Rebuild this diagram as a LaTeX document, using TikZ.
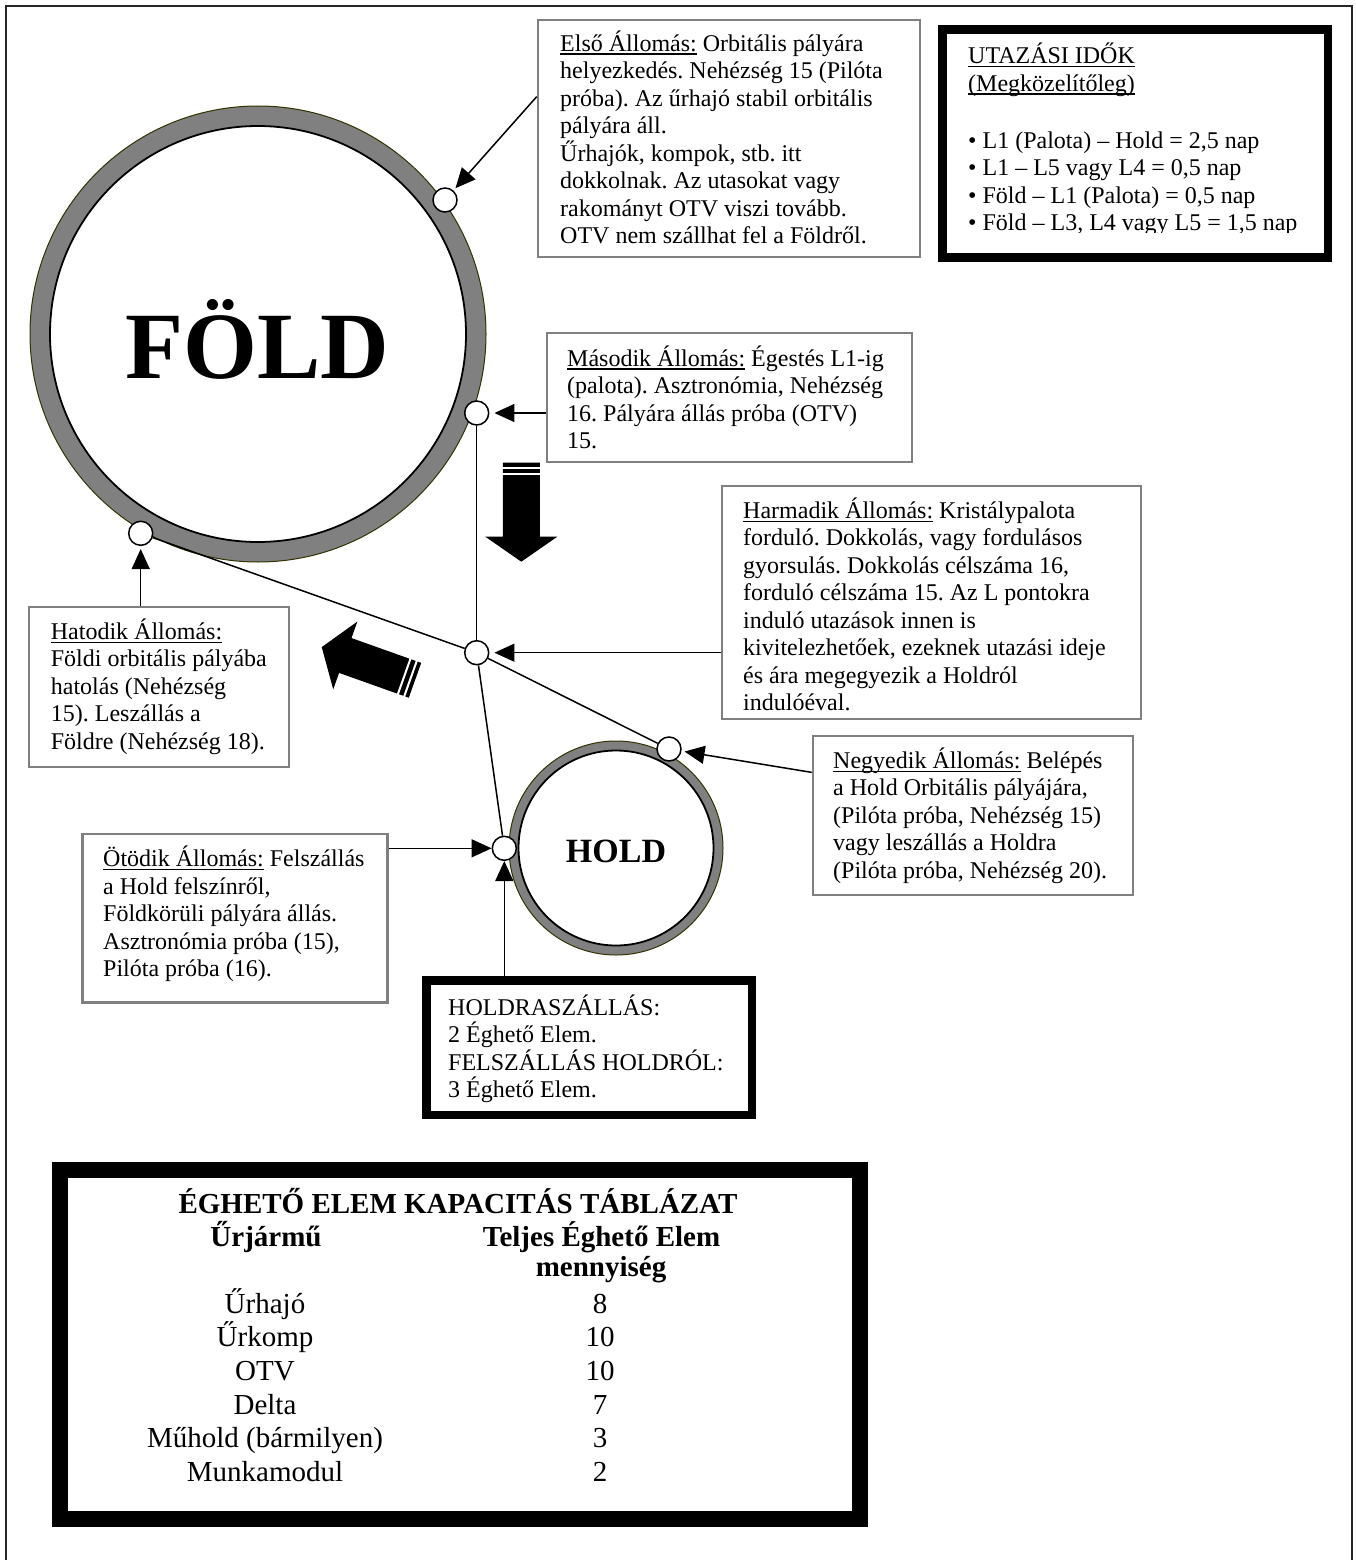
\documentclass[tikz,border=0pt]{standalone}
\usepackage{fontspec}
\setmainfont{Liberation Serif}
\usetikzlibrary{arrows.meta,calc}
\definecolor{boxgray}{RGB}{128,128,128}
\definecolor{ringgray}{RGB}{128,128,128}
\definecolor{ringedge}{RGB}{51,51,0}
\frenchspacing
\newcommand\ulin[1]{\setbox0=\hbox{#1}\leavevmode\rlap{\rule[-3.6pt]{\wd0}{1.4pt}}\box0\relax}
\tikzset{
  graybox/.style={draw=boxgray, line width=2.5pt, fill=white, inner sep=0pt},
  blackbox/.style={draw=black, fill=white, inner sep=0pt},
  station/.style={circle, draw=black, fill=white, line width=1.5pt, minimum size=24pt, inner sep=0pt},
  txt/.style={anchor=base west, align=left, inner sep=0pt, font=\fontsize{24}{27.5}\selectfont\frenchspacing},
  conn/.style={line width=1.5pt},
  arr/.style={line width=1.5pt, -{Triangle[length=20pt,width=18pt]}, shorten >=3pt},
  tab/.style={anchor=base, inner sep=0pt, font=\fontsize{29}{33}\selectfont},
  tabb/.style={anchor=base, inner sep=0pt, font=\fontsize{29}{33}\selectfont\bfseries},
  blockarrow/.pic={
    \fill[black] (0,-18.5) -- (74,-18.5) -- (74,-36) -- (99,0) -- (74,36) -- (74,18.5) -- (0,18.5) -- cycle;
    \draw[white, line width=2pt] (4.8,-19.5) -- (4.8,19.5);
    \draw[white, line width=2pt] (11.5,-19.5) -- (11.5,19.5);
  }
}
\begin{document}
\begin{tikzpicture}[x=1pt,y=-1pt]
\clip (0,0) rectangle (1356,1560);
\fill[white] (0,0) rectangle (1356,1560);
% outer frame
\draw[line width=1.5pt, black!85] (6,1580) -- (6,6) -- (1352,6) -- (1352,1580);

% Earth
\node[circle, fill=ringgray, draw=ringedge, line width=1pt, minimum size=456pt, inner sep=0pt] (earth) at (258,334) {};
\node[circle, fill=white, draw=black, line width=1.8pt, minimum size=416pt, inner sep=0pt] (earthin) at (258,334) {};
\node[anchor=base, inner sep=0pt, font=\fontsize{95}{95}\selectfont\bfseries] (foldlbl) at (257,378) {FÖLD};

% Moon
\node[circle, fill=ringgray, draw=ringedge, line width=1pt, minimum size=214pt, inner sep=0pt] (moon) at (616,848) {};
\node[circle, fill=white, draw=black, line width=1.8pt, minimum size=195pt, inner sep=0pt] (moonin) at (616,848) {};
\node[anchor=base, inner sep=0pt, font=\fontsize{34}{34}\selectfont\bfseries] (holdlbl) at (616,862.7) {HOLD};

% boxes
\node[graybox, minimum width=382pt, minimum height=237pt] (b1) at (729,138.5) {};
\node[blackbox, line width=8.5pt, minimum width=385.5pt, minimum height=227.5pt] (bt) at (1135,143.5) {};
\node[graybox, minimum width=365pt, minimum height=129pt] (b2) at (729.5,397.5) {};
\node[graybox, minimum width=419pt, minimum height=233pt] (b3) at (931.5,602.5) {};
\node[graybox, minimum width=320pt, minimum height=159pt] (b4) at (973,815.5) {};
\node[graybox, minimum width=260pt, minimum height=160pt] (b6) at (159,687) {};
\node[graybox, minimum width=305pt, minimum height=168.5pt] (b5) at (235,918.25) {};
\node[blackbox, line width=8.5pt, minimum width=325.5pt, minimum height=134.5pt] (bh) at (589,1047.5) {};
\node[blackbox, line width=16pt, minimum width=799.5pt, minimum height=349pt] (btab) at (459.75,1344.5) {};

% box texts (anchor = baseline of the last line)
\begin{scope}
\clip (540,22) rectangle (918,243);
\node[txt] (t1) at (560,243.5) {\ulin{Első Állomás:} Orbitális pályára\\
helyezkedés. Nehézség 15 (Pilóta\\
próba). Az űrhajó stabil orbitális\\
pályára áll.\\
Űrhajók, kompok, stb. itt\\
dokkolnak. Az utasokat vagy\\
rakományt OTV viszi tovább.\\
OTV nem szállhat fel a Földről.};
\end{scope}

\begin{scope}
\clip (946,33) rectangle (1325,232);
\node[txt] (tt) at (968,230.5) {\ulin{UTAZÁSI IDŐK}\\
\ulin{(Megközelítőleg)}\\[29.5pt]
• L1 (Palota) – Hold = 2,5 nap\\
• L1 – L5 vagy L4 = 0,5 nap\\
• Föld – L1 (Palota) = 0,5 nap\\
• Föld – L3, L4 vagy L5 = 1,5 nap};
\end{scope}

\node[txt] (t2) at (567,448.5) {\ulin{Második Állomás:} Égestés L1-ig\\
(palota). Asztronómia, Nehézség\\
16. Pályára állás próba (OTV)\\
15.};

\begin{scope}
\clip (724,488) rectangle (1139,710);
\node[txt] (t3) at (743,710.8) {\ulin{Harmadik Állomás:} Kristálypalota\\
forduló. Dokkolás, vagy fordulásos\\
gyorsulás. Dokkolás célszáma 16,\\
forduló célszáma 15. Az L pontokra\\
induló utazások innen is\\
kivitelezhetőek, ezeknek utazási ideje\\
és ára megegyezik a Holdról\\
indulóéval.};
\end{scope}

\node[txt] (t4) at (833,878.3) {\ulin{Negyedik Állomás:} Belépés\\
a Hold Orbitális pályájára,\\
(Pilóta próba, Nehézség 15)\\
vagy leszállás a Holdra\\
(Pilóta próba, Nehézség 20).};

\node[txt] (t6) at (50.7,749.3) {\ulin{Hatodik Állomás:}\\
Földi orbitális pályába\\
hatolás (Nehézség\\
15). Leszállás a\\
Földre (Nehézség 18).};

\node[txt] (t5) at (103,976.7) {\ulin{Ötödik Állomás:} Felszállás\\
a Hold felszínről,\\
Földkörüli pályára állás.\\
Asztronómia próba (15),\\
Pilóta próba (16).};

\node[txt] (th) at (448,1097.5) {HOLDRASZÁLLÁS:\\
2 Éghető Elem.\\
FELSZÁLLÁS HOLDRÓL:\\
3 Éghető Elem.};

% table
\node[tabb] (ttl) at (458,1213.3) {ÉGHETŐ ELEM KAPACITÁS TÁBLÁZAT};
\node[tabb] (h1) at (266,1246.7) {Űrjármű};
\node[tabb] (h2) at (601.5,1246.7) {Teljes Éghető Elem};
\node[tabb] (h3) at (601,1276.7) {mennyiség};
\foreach \nm/\val [count=\i] in {Űrhajó/8, Űrkomp/10, OTV/10, Delta/7, Műhold (bármilyen)/3, Munkamodul/2}{
  \node[tab] (ra\i) at (265,{1313.3+(\i-1)*33.6}) {\nm};
  \node[tab] (rb\i) at (600,{1313.3+(\i-1)*33.6}) {\val};
}

% stations
\node[station] (s1) at (445,200) {};
\node[station] (s2) at (476.7,413) {};
\node[station] (s3) at (476.7,652.7) {};
\node[station] (s4) at (669,749) {};
\node[station] (s5) at (504.3,848.3) {};
\node[station] (s6) at (140.7,533.3) {};

% connectors
\draw[conn] (s2) -- (s3);
\draw[conn] (s6) -- (s3);
\draw[conn] (s3) -- (s4);
\draw[conn] (s3) -- (s5);

% arrows
\draw[arr] ($(b1.north west)!0.325!(b1.south west)$) -- (s1);
\draw[arr, shorten >=5pt] (b2.west |- s2) -- (s2);
\draw[arr, shorten >=5pt] (b3.west |- s3) -- (s3);
\draw[arr] ($(b4.north west)!0.233!(b4.south west)$) -- (s4);
\draw[arr, shorten >=0pt] (b5.east |- s5) -- (s5);
\draw[arr, shorten >=0pt] (bh.north -| s5) -- (s5);
\draw[arr] (b6.north -| s6) -- (s6);

% block arrows
\pic[rotate=-90] at (521.3,462.7) {blockarrow};
\pic[rotate=160.4] at (415,680.3) {blockarrow};
\end{tikzpicture}
\end{document}
